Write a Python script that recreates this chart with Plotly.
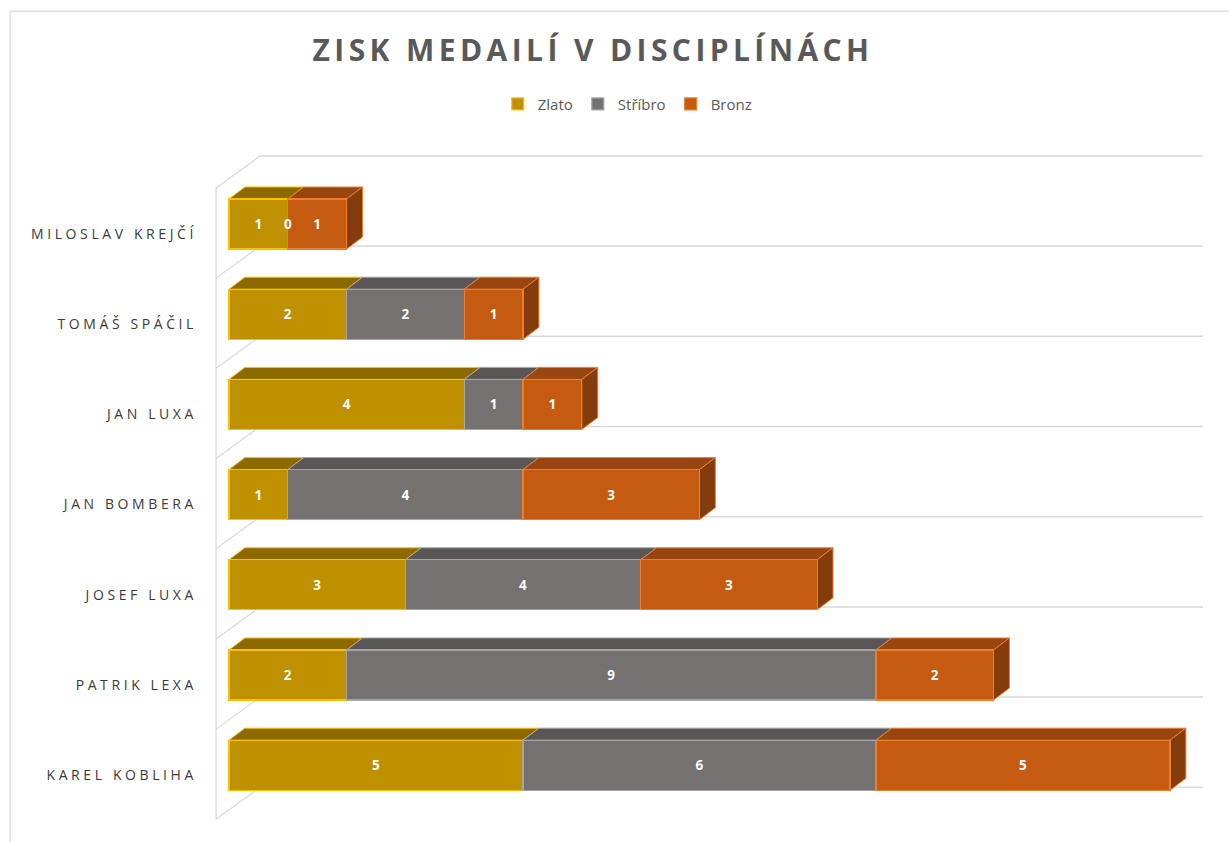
import plotly.graph_objects as go

# ---------------- data ----------------
athletes = ["MILOSLAV KREJČÍ", "TOMÁŠ SPÁČIL", "JAN LUXA", "JAN BOMBERA",
            "JOSEF LUXA", "PATRIK LEXA", "KAREL KOBLIHA"]
zlato = [1, 2, 4, 1, 3, 2, 5]
stribro = [0, 2, 1, 4, 4, 9, 6]
bronz = [1, 1, 1, 3, 3, 2, 5]
series_names = ["Zlato", "Stříbro", "Bronz"]
title_text = "ZISK MEDAILÍ V DISCIPLÍNÁCH"

# ---------------- style ----------------
front = ["#BF9000", "#767171", "#C55A11"]
top_c = ["#8C6A00", "#5A5656", "#984510"]
side_c = ["#6E5200", "#4A4646", "#843C0C"]
edge = ["#FFC000", "#A6A6A6", "#ED7D31"]
grid_c = "#D9D9D9"
text_c = "#595959"

W, H = 1229, 842
ML, MR, MT, MB = 200, 19, 145, 17
X_RANGE = [-0.493, 16.68]
Y_RANGE = [6.663, -0.876]      # reversed: first athlete on top
BAR_W = 0.555
DX, DY = 0.27, -0.133          # bar depth offset (data units)
WALL_X, WALL_Y = -0.22, -0.40  # front-left edge of the left wall
WDX, WDY = 0.75, -0.355        # wall depth offset
BACK_RIGHT = 16.56
LABEL_FONT = dict(color="white", size=13.5, family="Open Sans", weight="bold")

idx = list(range(len(athletes)))
series = [zlato, stribro, bronz]

fig = go.Figure()
for s, (name, vals) in enumerate(zip(series_names, series)):
    fig.add_trace(go.Bar(
        y=idx, x=vals, orientation="h", name=name,
        marker=dict(color=front[s], line=dict(color=edge[s], width=1.2)),
        text=[str(v) for v in vals], textposition="inside",
        insidetextanchor="middle", textangle=0, constraintext="none",
        textfont=LABEL_FONT,
        hoverinfo="skip",
    ))

# labels of zero-valued segments (plotly hides text of zero-width bars)
annotations = []
for i in idx:
    cum = 0
    for s, vals in enumerate(series):
        if vals[i] == 0:
            annotations.append(dict(x=cum, y=i, xref="x", yref="y",
                                    text=str(vals[i]), showarrow=False,
                                    font=LABEL_FONT, xanchor="center",
                                    yanchor="middle"))
        cum += vals[i]

shapes = []
# outer chart border
shapes.append(dict(type="rect", xref="paper", yref="paper",
                   x0=-0.188, x1=1.05, y0=-0.05, y1=1.197,
                   line=dict(color=grid_c, width=1.2), fillcolor="rgba(0,0,0,0)",
                   layer="below"))
# walls (back wall gridlines + left wall)
n = len(athletes)
for k in range(n + 1):
    yf = WALL_Y + k
    yb = yf + WDY
    shapes.append(dict(type="line", xref="x", yref="y",
                       x0=WALL_X + WDX, x1=BACK_RIGHT, y0=yb, y1=yb,
                       line=dict(color=grid_c, width=1.5), layer="below"))
    shapes.append(dict(type="line", xref="x", yref="y",
                       x0=WALL_X, x1=WALL_X + WDX, y0=yf, y1=yb,
                       line=dict(color=grid_c, width=1.2), layer="below"))
shapes.append(dict(type="line", xref="x", yref="y",
                   x0=WALL_X, x1=WALL_X, y0=WALL_Y, y1=WALL_Y + n,
                   line=dict(color=grid_c, width=1.2), layer="below"))

# 3D faces of bars computed from the data
for i in idx:
    yt = i - BAR_W / 2
    yb = i + BAR_W / 2
    cum = 0.0
    last = None
    for s, vals in enumerate(series):
        v = vals[i]
        if v <= 0:
            continue
        x0, x1 = cum, cum + v
        path = (f"M {x0},{yt} L {x1},{yt} L {x1 + DX},{yt + DY} "
                f"L {x0 + DX},{yt + DY} Z")
        shapes.append(dict(type="path", xref="x", yref="y", path=path,
                           fillcolor=top_c[s], line=dict(color=edge[s], width=1),
                           layer="below"))
        cum = x1
        last = s
    if last is not None:
        path = (f"M {cum},{yt} L {cum + DX},{yt + DY} L {cum + DX},{yb + DY} "
                f"L {cum},{yb} Z")
        shapes.append(dict(type="path", xref="x", yref="y", path=path,
                           fillcolor=side_c[last], line=dict(color=edge[last], width=1),
                           layer="below"))

fig.update_layout(
    width=W, height=H,
    margin=dict(l=ML, r=MR, t=MT, b=MB, pad=0),
    paper_bgcolor="white", plot_bgcolor="rgba(0,0,0,0)",
    barmode="stack", bargap=1 - BAR_W,
    title=dict(text=title_text, xref="container", yref="container",
               x=593 / W, y=1 - 50 / H, xanchor="center", yanchor="middle",
               font=dict(family="Open Sans", size=30, color=text_c, weight="bold")),
    legend=dict(orientation="h", xref="paper", yref="paper", traceorder="normal",
                x=0.423, y=1.06, xanchor="center", yanchor="middle",
                font=dict(family="Open Sans", size=15, color=text_c),
                itemwidth=30, tracegroupgap=0, bgcolor="rgba(0,0,0,0)"),
    xaxis=dict(range=X_RANGE, visible=False, fixedrange=True),
    yaxis=dict(range=Y_RANGE, tickmode="array",
               tickvals=[i + 0.11 for i in idx], ticktext=athletes,
               showgrid=False, zeroline=False, showline=False, ticks="",
               ticklabelstandoff=2,
               tickfont=dict(family="Open Sans", size=14, color="#3A3A3A"),
               fixedrange=True),
    shapes=shapes,
    annotations=annotations,
    showlegend=True,
)

post = """
document.body.style.margin='0';
document.body.style.overflow='hidden';
function spacing(){
  document.querySelectorAll('.ytick text').forEach(function(t){t.style.letterSpacing='3.6px';});
  document.querySelectorAll('.gtitle').forEach(function(t){t.style.letterSpacing='4.4px';});
}
spacing(); setTimeout(spacing, 50); setTimeout(spacing, 300);
"""
fig.write_html("out.html", post_script=post, config={"displayModeBar": False})
